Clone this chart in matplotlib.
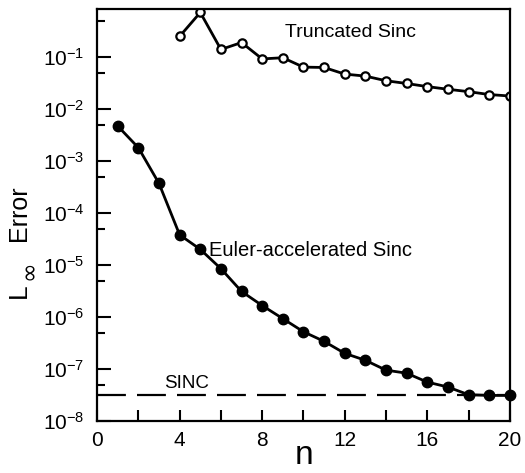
import numpy as np
import matplotlib
matplotlib.use('Agg')
import matplotlib.pyplot as plt
from matplotlib.ticker import FixedLocator, FuncFormatter

plt.rcParams['font.family'] = ['Liberation Sans', 'DejaVu Sans']
plt.rcParams['mathtext.fontset'] = 'custom'
plt.rcParams['mathtext.rm'] = 'Liberation Sans'
plt.rcParams['mathtext.it'] = 'Liberation Sans'
plt.rcParams['axes.unicode_minus'] = False

# dados
n_euler = np.arange(1, 21)
err_euler = [4.7e-3, 1.8e-3, 3.7e-4, 3.8e-5, 2.0e-5, 8.5e-6, 3.1e-6, 1.66e-6,
             9.3e-7, 5.2e-7, 3.4e-7, 2.0e-7, 1.47e-7, 9.5e-8, 8.3e-8, 5.6e-8,
             4.5e-8, 3.2e-8, 3.1e-8, 3.1e-8]

n_trunc = np.arange(4, 21)
err_trunc = [0.25, 0.72, 0.14, 0.19, 0.092, 0.097, 0.064, 0.063, 0.047, 0.043,
             0.035, 0.031, 0.027, 0.024, 0.0216, 0.019, 0.0178]

sinc_level = 3.1e-8

fig = plt.figure(figsize=(5.25, 4.73), dpi=100)
ax = fig.add_axes([0.185, 0.110, 0.786, 0.871])

ax.plot(n_trunc, err_trunc, '-', color='black', linewidth=2,
        marker='o', markersize=6, markerfacecolor='white',
        markeredgecolor='black', markeredgewidth=1.6)
ax.plot(n_euler, err_euler, '-', color='black', linewidth=2,
        marker='o', markersize=7.5, markerfacecolor='black',
        markeredgecolor='black', clip_on=False)
ax.axhline(sinc_level, color='black', linewidth=1.6, dashes=(13, 5))

ax.set_yscale('log')
ax.set_xlim(0, 20)
ax.set_ylim(1e-8, 0.84)

ax.xaxis.set_major_locator(FixedLocator([0, 4, 8, 12, 16, 20]))
ax.xaxis.set_minor_locator(FixedLocator([2, 6, 10, 14, 18]))
ax.yaxis.set_major_locator(FixedLocator([10.0**k for k in range(-8, 0)]))
ax.yaxis.set_minor_locator(FixedLocator([5 * 10.0**k for k in range(-8, 0)]))
ax.yaxis.set_major_formatter(FuncFormatter(
    lambda v, p: r'$10^{%d}$' % round(np.log10(v))))
ax.yaxis.set_minor_formatter(FuncFormatter(lambda v, p: ''))

ax.tick_params(which='both', direction='in', top=False, right=False, width=1.5)
ax.tick_params(axis='y', which='major', length=10, pad=9, labelsize=15)
ax.tick_params(axis='y', which='minor', length=6)
ax.tick_params(axis='x', which='both', length=8, pad=7, labelsize=15)

for s in ax.spines.values():
    s.set_linewidth(1.6)

ax.text(9.1, 0.30, 'Truncated Sinc', fontsize=14, ha='left', va='center')
ax.text(5.4, 1.9e-5, 'Euler-accelerated Sinc', fontsize=14.5, ha='left', va='center')
ax.text(3.25, 5.3e-8, 'SINC', fontsize=13.5, ha='left', va='center')

fig.text(304 / 525, 2 / 473, 'n', fontsize=24, ha='center', va='bottom')

# rótulo do eixo y: L com infinito subscrito
fig.text(31 / 525, 1 - 291 / 473, 'L', rotation=90, fontsize=19,
         ha='right', va='center')
fig.text(29 / 525, 1 - 270 / 473, '∞', rotation=90, fontsize=17,
         ha='center', va='center', family=['DejaVu Sans'])
fig.text(31 / 525, 1 - 213 / 473, 'Error', rotation=90, fontsize=18,
         ha='right', va='center')

plt.savefig('out.png', dpi=100)
